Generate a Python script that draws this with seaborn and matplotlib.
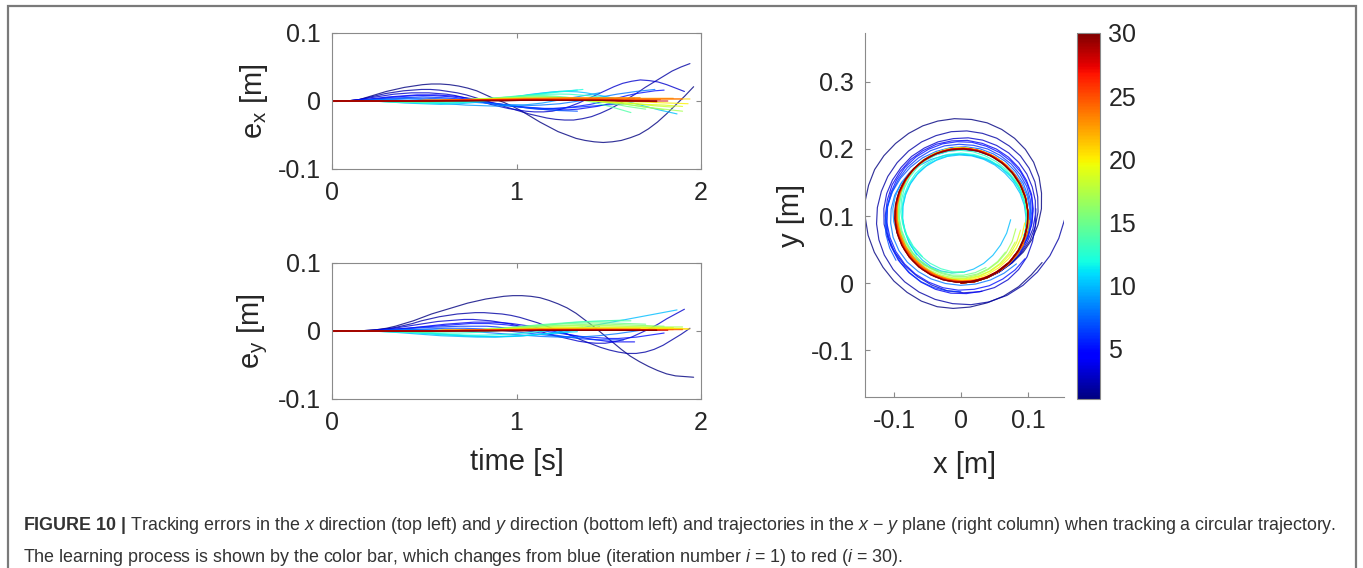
import numpy as np
import pandas as pd
import matplotlib
matplotlib.use("Agg")
import matplotlib.pyplot as plt
import seaborn as sns
from matplotlib.colors import Normalize
from matplotlib.cm import ScalarMappable
from matplotlib.patches import Rectangle

# ---------------------------------------------------------------------------
# Learning iterations and the duration of each recorded run [s]
iterations = list(range(1, 31))
end_times = [1.96, 1.94, 1.91, 1.64, 1.80, 1.58, 1.33, 1.75, 1.45, 1.87,
             1.33, 1.36, 1.58, 1.62, 1.70, 1.80, 1.90, 1.85, 1.90, 1.93,
             1.94, 1.85, 1.67, 1.78, 1.90, 1.72, 1.76, 1.82, 1.76, 1.76]

# Tracking error in x [m], evenly sampled (about every 0.05 s) from t = 0
# to the end of each run
ex_values = [
    [0, 0, 0.0005, 0.002, 0.006, 0.010, 0.014, 0.017, 0.020, 0.022, 0.024, 0.025, 0.025, 0.024, 0.022, 0.019, 0.015, 0.009, 0.003, -0.002, -0.008, -0.015, -0.023, -0.031, -0.038, -0.045, -0.050, -0.055, -0.058, -0.060, -0.061, -0.060, -0.058, -0.054, -0.049, -0.041, -0.031, -0.019, -0.006, 0.007, 0.021],
    [0, 0, 0.0005, 0.002, 0.005, 0.008, 0.011, 0.013, 0.015, 0.016, 0.017, 0.017, 0.016, 0.014, 0.012, 0.009, 0.005, 0.001, -0.003, -0.007, -0.011, -0.015, -0.019, -0.022, -0.025, -0.027, -0.028, -0.028, -0.026, -0.023, -0.018, -0.012, -0.005, 0.003, 0.011, 0.020, 0.028, 0.036, 0.044, 0.050, 0.055],
    [0, 0, 0.0005, 0.002, 0.004, 0.006, 0.008, 0.010, 0.011, 0.012, 0.012, 0.012, 0.011, 0.010, 0.008, 0.005, 0.002, -0.001, -0.005, -0.008, -0.011, -0.013, -0.015, -0.016, -0.016, -0.015, -0.012, -0.008, -0.003, 0.003, 0.009, 0.015, 0.021, 0.026, 0.029, 0.031, 0.030, 0.028, 0.024, 0.019, 0.014],
    [0, 0, 0.0005, 0.002, 0.003, 0.0045, 0.006, 0.007, 0.008, 0.009, 0.009, 0.009, 0.008, 0.007, 0.005, 0.003, 0.000, -0.003, -0.005, -0.007, -0.009, -0.011, -0.012, -0.013, -0.013, -0.013, -0.012, -0.010, -0.008, -0.005, -0.002, 0.001, 0.004],
    [0, 0, 0, 0.001, 0.002, 0.0035, 0.005, 0.006, 0.007, 0.008, 0.008, 0.008, 0.007, 0.006, 0.004, 0.002, 0.000, -0.002, -0.004, -0.006, -0.008, -0.009, -0.010, -0.011, -0.011, -0.010, -0.009, -0.007, -0.005, -0.002, 0.001, 0.0045, 0.008, 0.011, 0.013, 0.015, 0.016],
    [0, 0, 0, 0.001, 0.002, 0.003, 0.004, 0.0045, 0.005, 0.0055, 0.006, 0.0055, 0.005, 0.004, 0.003, 0.001, -0.001, -0.003, -0.005, -0.0065, -0.008, -0.009, -0.010, -0.011, -0.011, -0.011, -0.010, -0.009, -0.008, -0.007, -0.006, -0.005, -0.004],
    [0, 0, 0, 0.0005, 0.001, 0.002, 0.003, 0.0035, 0.004, 0.004, 0.004, 0.0035, 0.003, 0.002, 0.001, -0.0005, -0.002, -0.004, -0.006, -0.0075, -0.009, -0.0105, -0.012, -0.013, -0.014, -0.0145, -0.015],
    [0, 0, 0, 0.0005, 0.001, 0.0015, 0.002, 0.0025, 0.003, 0.0025, 0.002, 0.0015, 0.001, 0.000, -0.001, -0.002, -0.003, -0.004, -0.005, -0.0055, -0.006, -0.0065, -0.006, -0.005, -0.004, -0.002, 0.000, 0.0025, 0.005, 0.0075, 0.010, 0.012, 0.014, 0.0155, 0.017],
    [0, 0, 0, 0.0005, 0.001, 0.001, 0.001, 0.0005, 0.000, -0.001, -0.002, -0.003, -0.004, -0.005, -0.006, -0.0065, -0.007, -0.0075, -0.007, -0.0065, -0.006, -0.0045, -0.003, -0.0005, 0.002, 0.0045, 0.007, 0.0095, 0.012],
    [0, 0, 0, 0, 0, -0.0005, -0.001, -0.002, -0.003, -0.0035, -0.004, -0.0045, -0.005, -0.0045, -0.004, -0.003, -0.002, 0.000, 0.002, 0.004, 0.006, 0.008, 0.010, 0.0115, 0.013, 0.014, 0.014, 0.0135, 0.012, 0.0095, 0.007, 0.004, 0.001, -0.0025, -0.006, -0.0095, -0.013, -0.016, -0.019],
    [0, 0, 0, 0, 0, -0.0005, -0.001, -0.0015, -0.002, -0.0025, -0.003, -0.003, -0.003, -0.0025, -0.002, -0.001, 0.000, 0.0015, 0.003, 0.005, 0.007, 0.009, 0.011, 0.0125, 0.014, 0.015, 0.016],
    [0, 0, 0, 0, 0, -0.0005, -0.001, -0.0015, -0.002, -0.0025, -0.003, -0.003, -0.003, -0.0025, -0.002, -0.0005, 0.001, 0.0025, 0.004, 0.006, 0.008, 0.0095, 0.011, 0.0125, 0.014, 0.0155, 0.017],
    [0, 0, 0, 0, 0, -0.0005, -0.001, -0.0015, -0.002, -0.002, -0.002, -0.002, -0.002, -0.0015, -0.001, 0.000, 0.001, 0.0025, 0.004, 0.0055, 0.007, 0.008, 0.009, 0.0097, 0.010, 0.0102, 0.010, 0.009, 0.008, 0.0065, 0.005, 0.0035, 0.002],
    [0, 0, 0, 0, 0, -0.0005, -0.001, -0.001, -0.001, -0.001, -0.001, -0.0005, 0.000, 0.0005, 0.001, 0.002, 0.003, 0.004, 0.005, 0.006, 0.007, 0.0078, 0.008, 0.0078, 0.007, 0.0058, 0.004, 0.001, -0.002, -0.0055, -0.009, -0.013, -0.017],
    [0, 0, 0, 0, 0, 0, 0, -0.0005, -0.001, -0.001, -0.001, -0.0005, 0.000, 0.0005, 0.001, 0.002, 0.003, 0.004, 0.005, 0.0055, 0.006, 0.0068, 0.007, 0.0068, 0.006, 0.005, 0.004, 0.0025, 0.001, -0.001, -0.003, -0.0055, -0.008, -0.010, -0.012],
    [0, 0, 0, 0, 0, 0, 0, 0, 0, -0.0005, -0.001, -0.0005, 0.000, 0.0005, 0.001, 0.0015, 0.002, 0.003, 0.004, 0.0045, 0.005, 0.0055, 0.006, 0.0063, 0.006, 0.005, 0.004, 0.003, 0.002, 0.0005, -0.001, -0.003, -0.005, -0.007, -0.009, -0.011, -0.013],
    [0, 0, 0, 0, 0, 0, 0, 0, 0, 0, 0, 0.0005, 0.001, 0.0015, 0.002, 0.0025, 0.003, 0.0035, 0.004, 0.0045, 0.005, 0.005, 0.005, 0.005, 0.005, 0.004, 0.003, 0.002, 0.001, -0.0005, -0.002, -0.0035, -0.005, -0.007, -0.009, -0.0105, -0.012, -0.0135, -0.015],
    [0, 0, 0, 0, 0, 0, 0, 0, 0, 0, 0, 0.0005, 0.001, 0.0015, 0.002, 0.0025, 0.003, 0.0035, 0.004, 0.004, 0.004, 0.004, 0.004, 0.004, 0.004, 0.003, 0.002, 0.001, 0.000, -0.001, -0.002, -0.003, -0.004, -0.0055, -0.007, -0.008, -0.009],
    [0, 0, 0, 0, 0, 0, 0, 0, 0, 0, 0, 0.0005, 0.001, 0.0015, 0.002, 0.0025, 0.003, 0.003, 0.003, 0.0035, 0.004, 0.004, 0.004, 0.0035, 0.003, 0.0025, 0.002, 0.001, 0.000, -0.001, -0.002, -0.0025, -0.003, -0.004, -0.005, -0.0055, -0.006, -0.007, -0.008],
    [0, 0, 0, 0, 0, 0, 0, 0, 0, 0, 0, 0.0005, 0.001, 0.0015, 0.002, 0.002, 0.002, 0.0025, 0.003, 0.003, 0.003, 0.003, 0.003, 0.003, 0.003, 0.0025, 0.002, 0.0015, 0.001, 0.0005, 0.000, -0.0005, -0.001, -0.0015, -0.002, -0.0025, -0.003, -0.0035, -0.004],
    [0, 0, 0, 0, 0, 0, 0, 0, 0, 0.0005, 0.001, 0.001, 0.001, 0.0015, 0.002, 0.002, 0.002, 0.0025,
     0.003, 0.003, 0.003, 0.003, 0.003, 0.003, 0.003, 0.003, 0.003, 0.003, 0.003, 0.003, 0.003, 0.003, 0.003, 0.003, 0.003, 0.003, 0.003, 0.003, 0.003],
    [0, 0, 0, 0, 0, 0, 0, 0, 0, 0.0005, 0.001, 0.001, 0.001, 0.0015, 0.002, 0.002, 0.002, 0.0025, 0.003, 0.003, 0.003, 0.0035,
     0.004, 0.004, 0.004, 0.004, 0.004, 0.004, 0.004, 0.004, 0.004, 0.004, 0.004, 0.004, 0.004, 0.004, 0.004],
    [0, 0, 0, 0, 0, 0, 0, 0, 0, 0.0005, 0.001, 0.001, 0.001, 0.0015, 0.002, 0.002, 0.002, 0.0025, 0.003, 0.0035, 0.004, 0.004, 0.004, 0.0045,
     0.005, 0.005, 0.005, 0.005, 0.005, 0.005, 0.005, 0.005, 0.005],
    [0, 0, 0, 0, 0, 0, 0, 0, 0, 0.0005, 0.001, 0.001, 0.001, 0.001, 0.001, 0.0015, 0.002, 0.002, 0.002, 0.0025,
     0.003, 0.003, 0.003, 0.003, 0.003, 0.003, 0.003, 0.003, 0.003, 0.0025, 0.002, 0.002, 0.002, 0.002, 0.002],
    [0, 0, 0, 0, 0, 0, 0, 0, 0, 0.0005, 0.001, 0.001, 0.001, 0.001, 0.001, 0.0015, 0.002, 0.002, 0.002, 0.002, 0.002, 0.0025,
     0.003, 0.003, 0.003, 0.003, 0.003, 0.003, 0.003, 0.003, 0.003, 0.003, 0.003, 0.003, 0.003, 0.003, 0.003, 0.003, 0.003],
    [0, 0, 0, 0, 0, 0, 0, 0, 0, 0, 0, 0.0005, 0.001, 0.001, 0.001, 0.001, 0.001, 0.0015,
     0.002, 0.002, 0.002, 0.002, 0.002, 0.002, 0.002, 0.002, 0.002, 0.002, 0.002, 0.002, 0.002, 0.0015, 0.001, 0.001, 0.001],
    [0, 0, 0, 0, 0, 0, 0, 0, 0, 0, 0, 0.0005, 0.001, 0.001, 0.001, 0.001, 0.001, 0.001, 0.001, 0.0015,
     0.002, 0.002, 0.002, 0.002, 0.002, 0.0015, 0.001, 0.001, 0.001, 0.0005, 0, 0, 0, -0.0005, -0.001],
    [0, 0, 0, 0, 0, 0, 0, 0, 0, 0, 0, 0, 0, 0.0005, 0.001, 0.001, 0.001, 0.001, 0.001, 0.001, 0.001, 0.001, 0.001,
     0.001, 0.001, 0.001, 0.001, 0.001, 0.001, 0.001, 0.001, 0.0005, 0, 0, 0, 0, 0],
    [0, 0, 0, 0, 0, 0, 0, 0, 0, 0, 0, 0, 0, 0, 0, 0.0005, 0.001, 0.001, 0.001, 0.001, 0.001, 0.001, 0.001, 0.001,
     0.001, 0.001, 0.001, 0.001, 0.001, 0.001, 0.001, 0.0005, 0, 0, 0],
    [0, 0, 0, 0, 0, 0, 0, 0, 0, 0, 0, 0, 0, 0, 0, 0, 0, 0, 0, 0.0005, 0.001, 0.001, 0.001, 0.001, 0.001,
     0.001, 0.001, 0.001, 0.001, 0.0005, 0, 0, 0, 0, 0],
]

# Tracking error in y [m], same sampling as ex_values
ey_values = [
    [0, 0, 0, 0, 0.001, 0.002, 0.004, 0.007, 0.011, 0.015, 0.020, 0.025, 0.029, 0.033, 0.037, 0.041, 0.044, 0.047, 0.049, 0.051, 0.052, 0.052, 0.051, 0.049, 0.045, 0.040, 0.034, 0.026, 0.016, 0.006, -0.005, -0.016, -0.027, -0.037, -0.045, -0.052, -0.058, -0.063, -0.066, -0.067, -0.068],
    [0, 0, 0, 0, 0.001, 0.002, 0.003, 0.005, 0.008, 0.011, 0.015, 0.018, 0.021, 0.023, 0.025, 0.026, 0.027, 0.027, 0.026, 0.025, 0.023, 0.020, 0.016, 0.012, 0.007, 0.002, -0.003, -0.008, -0.014, -0.019, -0.024, -0.028, -0.031, -0.033, -0.033, -0.031, -0.027, -0.021, -0.013, -0.005, 0.004],
    [0, 0, 0, 0, 0.0005, 0.001, 0.003, 0.004, 0.006, 0.008, 0.010, 0.012, 0.014, 0.015, 0.016, 0.017, 0.017, 0.016, 0.015, 0.013, 0.011, 0.008, 0.005, 0.002, -0.002, -0.006, -0.009, -0.012, -0.015, -0.017, -0.018, -0.018, -0.016, -0.013, -0.009, -0.003, 0.003, 0.010, 0.018, 0.025, 0.032],
    [0, 0, 0, 0, 0.0005, 0.001, 0.002, 0.003, 0.004, 0.0055, 0.007, 0.0085, 0.010, 0.011, 0.012, 0.013, 0.013, 0.013, 0.012, 0.011, 0.009, 0.007, 0.004, 0.001, -0.002, -0.005, -0.008, -0.011, -0.013, -0.015, -0.016, -0.016, -0.016],
    [0, 0, 0, 0, 0, 0.001, 0.002, 0.003, 0.004, 0.005, 0.006, 0.007, 0.008, 0.009, 0.010, 0.011, 0.011, 0.011, 0.010, 0.009, 0.007, 0.005, 0.003, 0.000, -0.002, -0.004, -0.006, -0.008, -0.009, -0.010, -0.011, -0.011, -0.010, -0.009, -0.007, -0.005, -0.003],
    [0, 0, 0, 0, 0, 0.0005, 0.001, 0.002, 0.003, 0.004, 0.005, 0.0055, 0.006, 0.0065, 0.007, 0.007, 0.007, 0.007, 0.006, 0.0045, 0.003, 0.001, -0.001, -0.003, -0.005, -0.007, -0.009, -0.011, -0.012, -0.013, -0.013, -0.013, -0.013],
    [0, 0, 0, 0, 0, 0.0005, 0.001, 0.0015, 0.002, 0.0025, 0.003, 0.0035, 0.004, 0.004, 0.004, 0.0035, 0.003, 0.002, 0.001, -0.0005, -0.002, -0.0035, -0.005, -0.0065, -0.008, -0.0085, -0.009],
    [0, 0, 0, 0, 0, 0.0005, 0.001, 0.0015, 0.002, 0.002, 0.002, 0.0015, 0.001, 0.0005, 0.000, -0.001, -0.002, -0.003, -0.004, -0.005, -0.006, -0.007, -0.008, -0.0085, -0.009, -0.0095, -0.009, -0.008, -0.007, -0.0055, -0.004, -0.002, 0.000, 0.002, 0.004],
    [0, 0, 0, 0, 0, 0, 0, -0.0005, -0.001, -0.002, -0.003, -0.004, -0.005, -0.006, -0.007, -0.0075, -0.008, -0.0085, -0.008, -0.0075, -0.007, -0.006, -0.005, -0.0035, -0.002, 0.000, 0.002, 0.004, 0.006],
    [0, 0, 0, 0, 0, -0.0005, -0.001, -0.002, -0.003, -0.004, -0.005, -0.006, -0.007, -0.0075, -0.008, -0.0085, -0.009, -0.009, -0.009, -0.0085, -0.008, -0.007, -0.006, -0.0045, -0.003, -0.001, 0.001, 0.0035, 0.006, 0.0085, 0.011, 0.0135, 0.016, 0.0185, 0.021, 0.0235, 0.026, 0.0285, 0.031],
    [0, 0, 0, 0, 0, -0.0005, -0.001, -0.0015, -0.002, -0.003, -0.004, -0.005, -0.006, -0.0065, -0.007, -0.0075, -0.008, -0.008, -0.008, -0.0075, -0.007, -0.006, -0.005, -0.004, -0.003, -0.002, -0.001],
    [0, 0, 0, 0, 0, -0.0005, -0.001, -0.0015, -0.002, -0.0025, -0.003, -0.004, -0.005, -0.0055, -0.006, -0.0062, -0.006, -0.0055, -0.005, -0.004, -0.003, -0.0015, 0.000, 0.0015, 0.003, 0.0045, 0.006],
    [0, 0, 0, 0, 0, -0.0005, -0.001, -0.001, -0.001, -0.0015, -0.002, -0.0025, -0.003, -0.003, -0.003, -0.0025, -0.002, -0.001, 0.000, 0.0015, 0.003, 0.0045, 0.006, 0.0075, 0.009, 0.0105, 0.012, 0.013, 0.014, 0.0145, 0.015, 0.0155, 0.016],
    [0, 0, 0, 0, 0, 0, 0, -0.0005, -0.001, -0.001, -0.001, -0.001, -0.001, -0.0005, 0.000, 0.0005, 0.001, 0.002, 0.003, 0.0045, 0.006, 0.0075, 0.009, 0.010, 0.011, 0.012, 0.013, 0.0135, 0.014, 0.0145, 0.015, 0.015, 0.015],
    [0, 0, 0, 0, 0, 0, 0, -0.0005, -0.001, -0.001, -0.001, -0.0005, 0.000, 0.0005, 0.001, 0.0015, 0.002, 0.003, 0.004, 0.005, 0.006, 0.007, 0.008, 0.009, 0.010, 0.0105, 0.011, 0.0115, 0.012, 0.012, 0.012, 0.0115, 0.011, 0.0105, 0.010],
    [0, 0, 0, 0, 0, 0, 0, 0, 0, -0.0005, -0.001, -0.0005, 0.000, 0.0005, 0.001, 0.0015, 0.002, 0.0025, 0.003, 0.004, 0.005, 0.006, 0.007, 0.0075, 0.008, 0.0085, 0.009, 0.0095, 0.010, 0.010, 0.010, 0.0095, 0.009, 0.0085, 0.008, 0.0075, 0.007],
    [0, 0, 0, 0, 0, 0, 0, 0, 0, 0, 0, 0.0005, 0.001, 0.001, 0.001, 0.0015, 0.002, 0.0025, 0.003, 0.004, 0.005, 0.0055, 0.006, 0.0065, 0.007, 0.0075, 0.008, 0.008, 0.008, 0.008, 0.008, 0.0075, 0.007, 0.007, 0.007, 0.0065, 0.006, 0.006, 0.006],
    [0, 0, 0, 0, 0, 0, 0, 0, 0, 0, 0, 0.0005, 0.001, 0.001, 0.001, 0.0015, 0.002, 0.0025, 0.003, 0.0035, 0.004, 0.0045, 0.005, 0.0055, 0.006, 0.006, 0.006, 0.006, 0.006, 0.006, 0.006, 0.006, 0.006, 0.0055, 0.005, 0.005, 0.005],
    [0, 0, 0, 0, 0, 0, 0, 0, 0, 0, 0, 0.0005, 0.001, 0.001, 0.001, 0.0015, 0.002, 0.0025, 0.003, 0.0035, 0.004, 0.004, 0.004, 0.0045, 0.005, 0.005, 0.005, 0.005, 0.005, 0.005, 0.005, 0.005, 0.005, 0.005, 0.005, 0.0045, 0.004, 0.004, 0.004],
    [0, 0, 0, 0, 0, 0, 0, 0, 0, 0, 0, 0.0005, 0.001, 0.001, 0.001, 0.0015, 0.002, 0.002, 0.002, 0.0025, 0.003, 0.003, 0.003, 0.0035, 0.004, 0.004, 0.004, 0.004, 0.004, 0.004, 0.004, 0.004, 0.004, 0.004, 0.004, 0.004, 0.004, 0.0035, 0.003],
    [0, 0, 0, 0, 0, 0, 0, 0, 0, 0, 0, 0.0005, 0.001, 0.001, 0.001, 0.001, 0.001, 0.0015, 0.002, 0.002, 0.002, 0.002, 0.002, 0.0025,
     0.003, 0.003, 0.003, 0.003, 0.003, 0.003, 0.003, 0.003, 0.003, 0.003, 0.003, 0.003, 0.003, 0.003, 0.003],
    [0, 0, 0, 0, 0, 0, 0, 0, 0, 0, 0, 0.0005, 0.001, 0.001, 0.001, 0.001, 0.001, 0.0015, 0.002, 0.002, 0.002, 0.0025,
     0.003, 0.003, 0.003, 0.003, 0.003, 0.003, 0.003, 0.003, 0.003, 0.0025, 0.002, 0.002, 0.002, 0.002, 0.002],
    [0, 0, 0, 0, 0, 0, 0, 0, 0, 0, 0, 0.0005, 0.001, 0.001, 0.001, 0.0015, 0.002, 0.002, 0.002, 0.0025,
     0.003, 0.003, 0.003, 0.003, 0.003, 0.003, 0.003, 0.003, 0.003, 0.003, 0.003, 0.003, 0.003],
    [0, 0, 0, 0, 0, 0, 0, 0, 0, 0, 0, 0.0005, 0.001, 0.001, 0.001, 0.001, 0.001, 0.0015,
     0.002, 0.002, 0.002, 0.002, 0.002, 0.002, 0.002, 0.002, 0.002, 0.002, 0.002, 0.002, 0.002, 0.002, 0.002, 0.002, 0.002],
    [0, 0, 0, 0, 0, 0, 0, 0, 0, 0, 0, 0.0005, 0.001, 0.001, 0.001, 0.001, 0.001, 0.001, 0.001, 0.0015,
     0.002, 0.002, 0.002, 0.002, 0.002, 0.002, 0.002, 0.002, 0.002, 0.002, 0.002, 0.002, 0.002, 0.002, 0.002, 0.002, 0.002, 0.002, 0.002],
    [0, 0, 0, 0, 0, 0, 0, 0, 0, 0, 0, 0, 0, 0.0005, 0.001, 0.001, 0.001, 0.001, 0.001, 0.001, 0.001, 0.0015,
     0.002, 0.002, 0.002, 0.002, 0.002, 0.002, 0.002, 0.002, 0.002, 0.002, 0.002, 0.002, 0.002],
    [0, 0, 0, 0, 0, 0, 0, 0, 0, 0, 0, 0, 0, 0.0005, 0.001, 0.001, 0.001, 0.001, 0.001, 0.001, 0.001, 0.001,
     0.001, 0.001, 0.001, 0.001, 0.001, 0.001, 0.001, 0.001, 0.001, 0.001, 0.001, 0.001, 0.001],
    [0, 0, 0, 0, 0, 0, 0, 0, 0, 0, 0, 0, 0, 0, 0, 0.0005, 0.001, 0.001, 0.001, 0.001, 0.001, 0.001, 0.001, 0.001,
     0.001, 0.001, 0.001, 0.001, 0.001, 0.001, 0.001, 0.001, 0.001, 0.001, 0.001, 0.001, 0.001],
    [0, 0, 0, 0, 0, 0, 0, 0, 0, 0, 0, 0, 0, 0, 0, 0, 0, 0.0005, 0.001, 0.001, 0.001, 0.001, 0.001, 0.001,
     0.001, 0.001, 0.001, 0.001, 0.001, 0.001, 0.001, 0.001, 0.001, 0.001, 0.001],
    [0, 0, 0, 0, 0, 0, 0, 0, 0, 0, 0, 0, 0, 0, 0, 0, 0, 0, 0, 0, 0, 0.0005, 0.001, 0.001, 0.001,
     0.001, 0.001, 0.001, 0.001, 0.001, 0.001, 0.001, 0.001, 0.001, 0.001],
]

# Commanded circle: centre (0, 0.1) m, radius 0.1 m, angular rate 4 rad/s,
# starting at the origin.
ref_center_y = 0.1
ref_radius = 0.1
ref_omega = 4.0

# Tick labels
err_ticks = [-0.1, 0, 0.1]
err_ticklabels = ["-0.1", "0", "0.1"]
time_ticks = [0, 1, 2]
xy_xticks = [-0.1, 0, 0.1]
xy_xticklabels = ["-0.1", "0", "0.1"]
xy_yticks = [-0.1, 0, 0.1, 0.2, 0.3]
xy_yticklabels = ["-0.1", "0", "0.1", "0.2", "0.3"]
cbar_ticks = [5, 10, 15, 20, 25, 30]

# ---------------------------------------------------------------------------
# Long table: one row per sample; the x-y position is the commanded circle
# plus the measured tracking error at the same instant.
frames = []
for it, t_end, ex, ey in zip(iterations, end_times, ex_values, ey_values):
    t = np.linspace(0.0, t_end, len(ex))
    ex = np.asarray(ex, dtype=float)
    ey = np.asarray(ey, dtype=float)
    x_ref = ref_radius * np.sin(ref_omega * t)
    y_ref = ref_center_y - ref_radius * np.cos(ref_omega * t)
    frames.append(pd.DataFrame({
        "iteration": it, "time": t, "ex": ex, "ey": ey,
        "x": x_ref + ex, "y": y_ref + ey,
    }))
df = pd.concat(frames, ignore_index=True)

# ---------------------------------------------------------------------------
sns.set_theme(style="white")
plt.rcParams.update({
    "font.family": ["Liberation Sans", "DejaVu Sans"],
    "axes.unicode_minus": False,
    "mathtext.fontset": "custom",
    "mathtext.rm": "Liberation Sans",
    "mathtext.it": "Liberation Sans:italic",
    "mathtext.bf": "Liberation Sans:bold",
})

W, H = 1363, 568
fig = plt.figure(figsize=(W / 100, H / 100), dpi=100)
fig.patch.set_facecolor("white")


def box(left, top, right, bottom):
    return [left / W, 1 - bottom / H, (right - left) / W, (bottom - top) / H]


ax_ex = fig.add_axes(box(332, 33, 701, 169))
ax_ey = fig.add_axes(box(332, 263, 701, 399))
ax_xy = fig.add_axes(box(865, 33, 1064, 397))
cax = fig.add_axes(box(1077, 33, 1100, 399))

jet = matplotlib.colormaps["jet"]
norm = Normalize(vmin=1, vmax=30)
line_kw = dict(hue="iteration", palette=jet, hue_norm=norm, legend=False,
               estimator=None, linewidth=0.85, alpha=0.8)

sns.lineplot(data=df, x="time", y="ex", ax=ax_ex, **line_kw)
sns.lineplot(data=df, x="time", y="ey", ax=ax_ey, **line_kw)
sns.lineplot(data=df, x="x", y="y", ax=ax_xy, sort=False, **line_kw)

spine_col = "#8a8a8a"
tick_col = "#262626"
label_size = 21
tick_size = 18

for ax, lab in ((ax_ex, r"e$_\mathrm{x}$ [m]"), (ax_ey, r"e$_\mathrm{y}$ [m]")):
    ax.set_xlim(0, 2)
    ax.set_ylim(-0.1, 0.1)
    ax.set_xticks(time_ticks)
    ax.set_xticklabels([str(v) for v in time_ticks])
    ax.set_yticks(err_ticks)
    ax.set_yticklabels(err_ticklabels)
    ax.tick_params(direction="in", length=3.5, width=0.8, color=spine_col,
                   labelsize=tick_size, labelcolor=tick_col,
                   top=True, right=True, bottom=True, left=True)
    ax.tick_params(axis="x", pad=9)
    ax.tick_params(axis="y", pad=8)
    for s in ax.spines.values():
        s.set_visible(True)
        s.set_color(spine_col)
        s.set_linewidth(0.8)
    ax.set_ylabel(lab, fontsize=label_size, color=tick_col)
    ax.yaxis.set_label_coords(-0.168, 0.5)
    ax.set_xlabel("")

ax_ey.set_xlabel("time [s]", fontsize=label_size, color=tick_col)
ax_ey.xaxis.set_label_coords(0.5, -0.36)

ax_xy.set_xlim(-0.1433, 0.1537)
ax_xy.set_ylim(-0.170, 0.373)
ax_xy.set_xticks(xy_xticks)
ax_xy.set_xticklabels(xy_xticklabels)
ax_xy.set_yticks(xy_yticks)
ax_xy.set_yticklabels(xy_yticklabels)
ax_xy.tick_params(direction="in", length=3.5, width=0.8, color=spine_col,
                  labelsize=tick_size, labelcolor=tick_col,
                  bottom=True, left=True)
ax_xy.tick_params(axis="x", pad=9)
ax_xy.tick_params(axis="y", pad=8)
for side in ("top", "right"):
    ax_xy.spines[side].set_visible(False)
for side in ("left", "bottom"):
    ax_xy.spines[side].set_color(spine_col)
    ax_xy.spines[side].set_linewidth(0.8)
ax_xy.set_xlabel("x [m]", fontsize=label_size, color=tick_col)
ax_xy.set_ylabel("y [m]", fontsize=label_size, color=tick_col)
ax_xy.xaxis.set_label_coords(0.5, -0.148)
ax_xy.yaxis.set_label_coords(-0.30, 0.5)

cb = fig.colorbar(ScalarMappable(norm=norm, cmap=jet), cax=cax, ticks=cbar_ticks)
cb.outline.set_edgecolor(spine_col)
cb.outline.set_linewidth(0.8)
cax.tick_params(direction="in", length=3, width=0.8, color=spine_col,
                labelsize=tick_size, labelcolor=tick_col, pad=6)

# Frame around the figure panel
fig.add_artist(Rectangle((8 / W, -0.05), (1356 - 8) / W, (1 - 6 / H) + 0.05,
                         transform=fig.transFigure, fill=False,
                         edgecolor="#7a7a7a", linewidth=1.6))

# Caption
cap_col = "#333333"
line1 = (r"$\mathbf{FIGURE\ 10\ |}$ Tracking errors in the $\mathit{x}$ direction "
         r"(top left) and $\mathit{y}$ direction (bottom left) and trajectories in "
         r"the $\mathit{x}$ − $\mathit{y}$ plane (right column) when tracking a "
         r"circular trajectory.")
line2 = (r"The learning process is shown by the color bar, which changes from "
         r"blue (iteration number $\mathit{i}$ = 1) to red ($\mathit{i}$ = 30).")
t1 = fig.text(23 / W, 1 - 525 / H, line1, fontsize=12.5, color=cap_col,
              ha="left", va="center")
renderer = fig.canvas.get_renderer()
w1 = t1.get_window_extent(renderer).width
cap_size = 12.5 * (1342 - 23) / w1
t1.set_fontsize(cap_size)
fig.text(23 / W, 1 - 557 / H, line2, fontsize=cap_size, color=cap_col,
         ha="left", va="center")

fig.savefig("out.png", dpi=100, facecolor="white")
